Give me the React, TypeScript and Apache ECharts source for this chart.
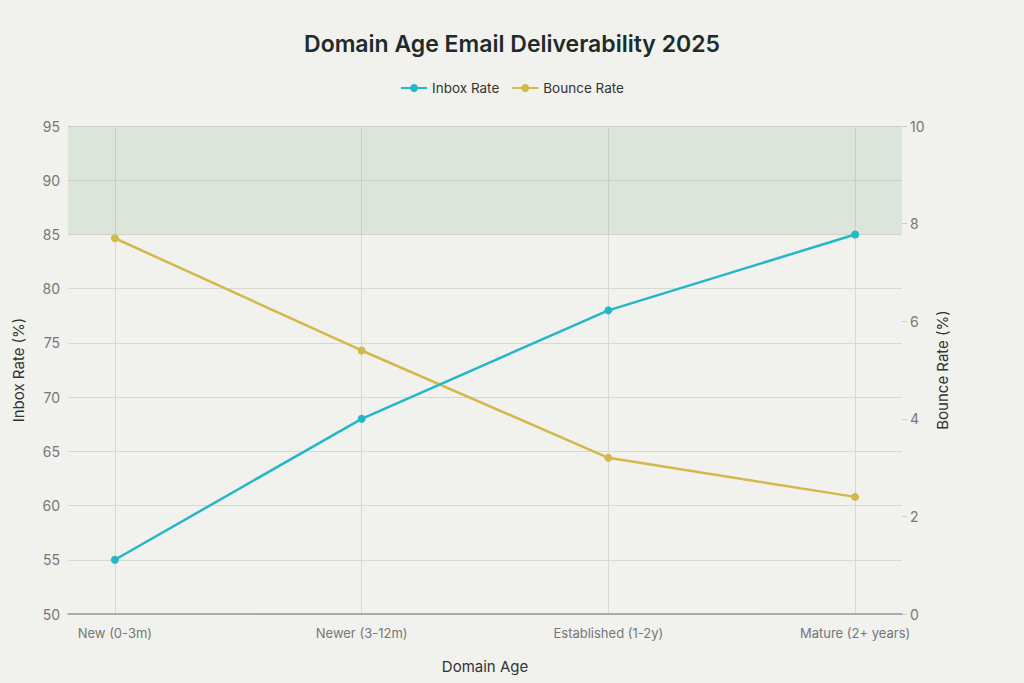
import React, { useEffect, useRef } from 'react';
import * as echarts from 'echarts';

const categories = ['New (0-3m)', 'Newer (3-12m)', 'Established (1-2y)', 'Mature (2+ years)'];
const inboxRate = [55, 68, 78, 85];
const bounceRate = [7.7, 5.4, 3.2, 2.4];
const categoryTicks = [0, 1, 2, 3];

export default function App() {
  const chartRef = useRef<HTMLDivElement>(null);

  useEffect(() => {
    document.body.style.margin = '0';
    if (!chartRef.current) return;
    const chart = echarts.init(chartRef.current, null, { renderer: 'svg' });

    const font = 'Inter, "Liberation Sans", sans-serif';
    const option = {
      animation: false,
      backgroundColor: '#f1f1ed',
      textStyle: { fontFamily: font },
      title: {
        text: 'Domain Age Email Deliverability 2025',
        left: 'center',
        top: 27,
        textStyle: { fontSize: 23, fontWeight: 600, color: '#1e2b2b', fontFamily: font },
      },
      legend: {
        top: 76,
        left: 'center',
        itemWidth: 26,
        itemHeight: 10,
        itemGap: 12,
        textStyle: { fontSize: 13.5, color: '#333', fontFamily: font },
        data: ['Inbox Rate', 'Bounce Rate'],
      },
      grid: { left: 68, right: 122, top: 126, bottom: 69 },
      xAxis: {
        type: 'value',
        min: -0.19,
        max: 3.19,
        name: 'Domain Age',
        nameLocation: 'middle',
        nameGap: 45,
        nameTextStyle: { fontSize: 15, color: '#333' },
        axisLine: { show: true, lineStyle: { color: '#999', width: 1.5 } },
        axisTick: { show: false, customValues: categoryTicks },
        axisLabel: {
          customValues: categoryTicks,
          formatter: (v: number) => categories[Math.round(v)] ?? '',
          color: '#777',
          fontSize: 13,
          margin: 12,
        },
        splitLine: { show: true, lineStyle: { color: '#d8d8d2' } },
      },
      yAxis: [
        {
          type: 'value',
          min: 50,
          max: 95,
          interval: 5,
          name: 'Inbox Rate (%)',
          nameLocation: 'middle',
          nameGap: 42,
          nameTextStyle: { fontSize: 15, color: '#333' },
          axisLine: { show: false },
          axisTick: { show: false },
          axisLabel: { color: '#777', fontSize: 14, margin: 8 },
          splitLine: { lineStyle: { color: '#d8d8d2' } },
        },
        {
          type: 'value',
          min: 0,
          max: 10,
          interval: 2,
          position: 'right',
          name: 'Bounce Rate (%)',
          nameLocation: 'middle',
          nameGap: 33,
          nameTextStyle: { fontSize: 15, color: '#333' },
          axisLine: { show: false },
          axisTick: { show: true, length: 5, lineStyle: { color: '#ccc' } },
          axisLabel: { color: '#777', fontSize: 14, margin: 8 },
          splitLine: { show: false },
        },
      ],
      series: [
        {
          name: 'Inbox Rate',
          type: 'line',
          yAxisIndex: 0,
          data: inboxRate.map((v, i) => [i, v]),
          symbol: 'circle',
          symbolSize: 8,
          lineStyle: { width: 2.5, color: '#25b7c8' },
          itemStyle: { color: '#25b7c8' },
          markArea: {
            silent: true,
            itemStyle: { color: 'rgba(110,170,120,0.16)' },
            data: [[{ yAxis: 85 }, { yAxis: 95 }]],
          },
          z: 3,
        },
        {
          name: 'Bounce Rate',
          type: 'line',
          yAxisIndex: 1,
          data: bounceRate.map((v, i) => [i, v]),
          symbol: 'circle',
          symbolSize: 8,
          lineStyle: { width: 2.5, color: '#d2b94b' },
          itemStyle: { color: '#d2b94b' },
          z: 2,
        },
      ],
    };
    chart.setOption(option);

    return () => chart.dispose();
  }, []);

  return <div ref={chartRef} style={{ width: '1024px', height: '683px' }} />;
}
